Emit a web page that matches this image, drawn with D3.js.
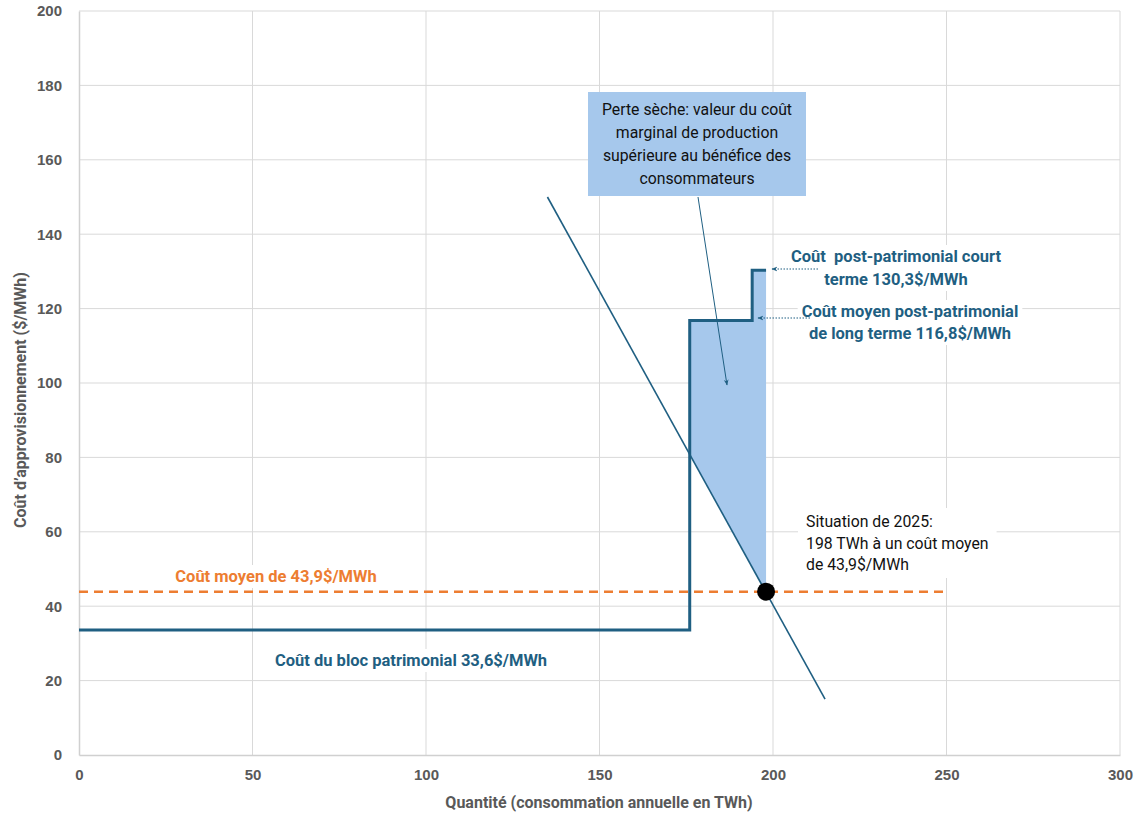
<!DOCTYPE html>
<html><head><meta charset="utf-8">
<script src="https://cdn.jsdelivr.net/npm/d3@7/dist/d3.min.js"></script>
<style>
body{margin:0;background:#fff;}
svg{display:block;}
</style></head>
<body>
<svg id="c" width="1137" height="815"></svg>
<script>
// ---- data ----
const xTicks = [0, 50, 100, 150, 200, 250, 300];
const yTicks = [0, 20, 40, 60, 80, 100, 120, 140, 160, 180, 200];
// supply step curve (TWh, $/MWh)
const supplyX = [0, 176, 176, 194, 194, 198];
const supplyY = [33.6, 33.6, 116.8, 116.8, 130.3, 130.3];
// demand line
const demandX = [135, 215];
const demandY = [150, 15];
// average cost line
const avgCost = 43.9;
const avgCostRange = [0, 250];
// current situation point
const situationX = 198;
const situationY = 43.9;
// shaded deadweight loss polygon
const lossX = [176, 176, 194, 194, 198, 198];
const lossY = [80.8, 116.8, 116.8, 130.3, 130.3, 43.7];

const svg = d3.select("#c");
const L = 79, R = 1120, T = 11, B = 755;
const x = d3.scaleLinear().domain([0, 300]).range([L, R]);
const y = d3.scaleLinear().domain([0, 200]).range([B, T]);

const blue = "#1f5f82";
const orange = "#ed7d31";
const fill = "#a6c8ec";
const grey = "#595959";

// grid
svg.append("g").selectAll("line").data(yTicks.filter(d => d > 0)).join("line")
  .attr("x1", L).attr("x2", R).attr("y1", d => y(d)).attr("y2", d => y(d))
  .attr("stroke", "#d9d9d9").attr("stroke-width", 1);
svg.append("g").selectAll("line").data(xTicks.filter(d => d > 0)).join("line")
  .attr("x1", d => x(d)).attr("x2", d => x(d)).attr("y1", T).attr("y2", B)
  .attr("stroke", "#d9d9d9").attr("stroke-width", 1);

// axes
const xAxis = svg.append("g").attr("transform", `translate(0,${B})`)
  .call(d3.axisBottom(x).tickValues(xTicks).tickSize(0).tickPadding(14));
const yAxis = svg.append("g").attr("transform", `translate(${L},0)`)
  .call(d3.axisLeft(y).tickValues(yTicks).tickSize(0).tickPadding(17));
[xAxis, yAxis].forEach(a => {
  a.select(".domain").attr("stroke", "#d0d0d0").attr("stroke-width", 1.5);
  a.selectAll("text").attr("fill", grey).attr("font-family", "Liberation Sans, Arial, sans-serif")
    .attr("font-weight", "bold").attr("font-size", 15);
});

// axis titles
svg.append("text").attr("x", 599).attr("y", 808).attr("text-anchor", "middle")
  .attr("font-family", "Liberation Sans Narrow, Roboto, sans-serif").attr("font-weight", "bold")
  .attr("font-size", 16).attr("fill", grey).text("Quantité (consommation annuelle en TWh)");
svg.append("text").attr("transform", `translate(26,400) rotate(-90)`).attr("text-anchor", "middle")
  .attr("font-family", "Liberation Sans Narrow, Roboto, sans-serif").attr("font-weight", "bold")
  .attr("font-size", 16).attr("fill", grey).text("Coût d’approvisionnement ($/MWh)");

// white-backed label helper
function label(lines, cx, cy, color, anchor, weight, size, lh, pad) {
  const g = svg.append("g");
  const rect = g.append("rect").attr("fill", "#fff");
  const t = g.append("text").attr("font-family", "Roboto, sans-serif")
    .attr("font-size", size).attr("font-weight", weight).attr("fill", color)
    .attr("text-anchor", anchor);
  lines.forEach((s, i) => t.append("tspan").attr("x", cx).attr("y", cy + i * lh).text(s));
  const bb = t.node().getBBox();
  rect.attr("x", bb.x - pad).attr("y", bb.y - pad / 2).attr("width", bb.width + 2 * pad).attr("height", bb.height + pad);
  return g;
}

// shaded area
const poly = lossX.map((d, i) => [x(d), y(lossY[i])]);
svg.append("path").attr("d", d3.line()(poly) + "Z").attr("fill", fill).attr("stroke", "none");

// labels with white backgrounds (drawn before lines)
label(["Coût moyen de 43,9$/MWh"], 276, 582, orange, "middle", "bold", 16.5, 20, 4);
label(["Coût du bloc patrimonial 33,6$/MWh"], 411, 666, blue, "middle", "bold", 16.5, 20, 4);
label(["Coût\u00a0 post-patrimonial court", "terme 130,3$/MWh"], 896, 262, blue, "middle", "bold", 16.5, 23, 4);
label(["Coût moyen post-patrimonial", "de long terme 116,8$/MWh"], 910, 317, blue, "middle", "bold", 16.5, 22, 4);
label(["Situation de 2025:", "198 TWh à un coût moyen", "de 43,9$/MWh"], 806, 527, "#111", "start", "normal", 15.8, 21.5, 8);

// orange dashed average
svg.append("line").attr("x1", x(avgCostRange[0])).attr("x2", x(avgCostRange[1]))
  .attr("y1", y(avgCost)).attr("y2", y(avgCost))
  .attr("stroke", orange).attr("stroke-width", 2.5).attr("stroke-dasharray", "9,6");

// supply step
const sp = supplyX.map((d, i) => [x(d), y(supplyY[i])]);
svg.append("path").attr("d", d3.line()(sp)).attr("fill", "none").attr("stroke", blue).attr("stroke-width", 3);

// demand
svg.append("line").attr("x1", x(demandX[0])).attr("y1", y(demandY[0]))
  .attr("x2", x(demandX[1])).attr("y2", y(demandY[1]))
  .attr("stroke", blue).attr("stroke-width", 1.6);

// point
svg.append("circle").attr("cx", x(situationX)).attr("cy", y(situationY)).attr("r", 9).attr("fill", "#000");

// arrowheads
const defs = svg.append("defs");
defs.append("marker").attr("id", "ah").attr("viewBox", "0 0 10 10").attr("refX", 9).attr("refY", 5)
  .attr("markerWidth", 6).attr("markerHeight", 6).attr("orient", "auto")
  .append("path").attr("d", "M0,1 L10,5 L0,9 L3,5 Z").attr("fill", blue);

// callout box
const bx = svg.append("g");
bx.append("rect").attr("x", 588).attr("y", 92).attr("width", 218).attr("height", 104).attr("fill", fill);
const bt = bx.append("text").attr("font-family", "Roboto, sans-serif").attr("font-size", 15.8)
  .attr("fill", "#111").attr("text-anchor", "middle");
["Perte sèche: valeur du coût", "marginal de production", "supérieure au bénéfice des", "consommateurs"]
  .forEach((s, i) => bt.append("tspan").attr("x", 697).attr("y", 115 + i * 23).text(s));

// arrows
svg.append("line").attr("x1", 698).attr("y1", 197).attr("x2", 727).attr("y2", 385)
  .attr("stroke", blue).attr("stroke-width", 1).attr("marker-end", "url(#ah)");
svg.append("line").attr("x1", 818).attr("y1", 269).attr("x2", 772).attr("y2", 269)
  .attr("stroke", blue).attr("stroke-width", 1).attr("stroke-dasharray", "1.5,1.5").attr("marker-end", "url(#ah)");
svg.append("line").attr("x1", 810).attr("y1", 318).attr("x2", 758).attr("y2", 318)
  .attr("stroke", blue).attr("stroke-width", 1).attr("stroke-dasharray", "1.5,1.5").attr("marker-end", "url(#ah)");
</script>
</body></html>
